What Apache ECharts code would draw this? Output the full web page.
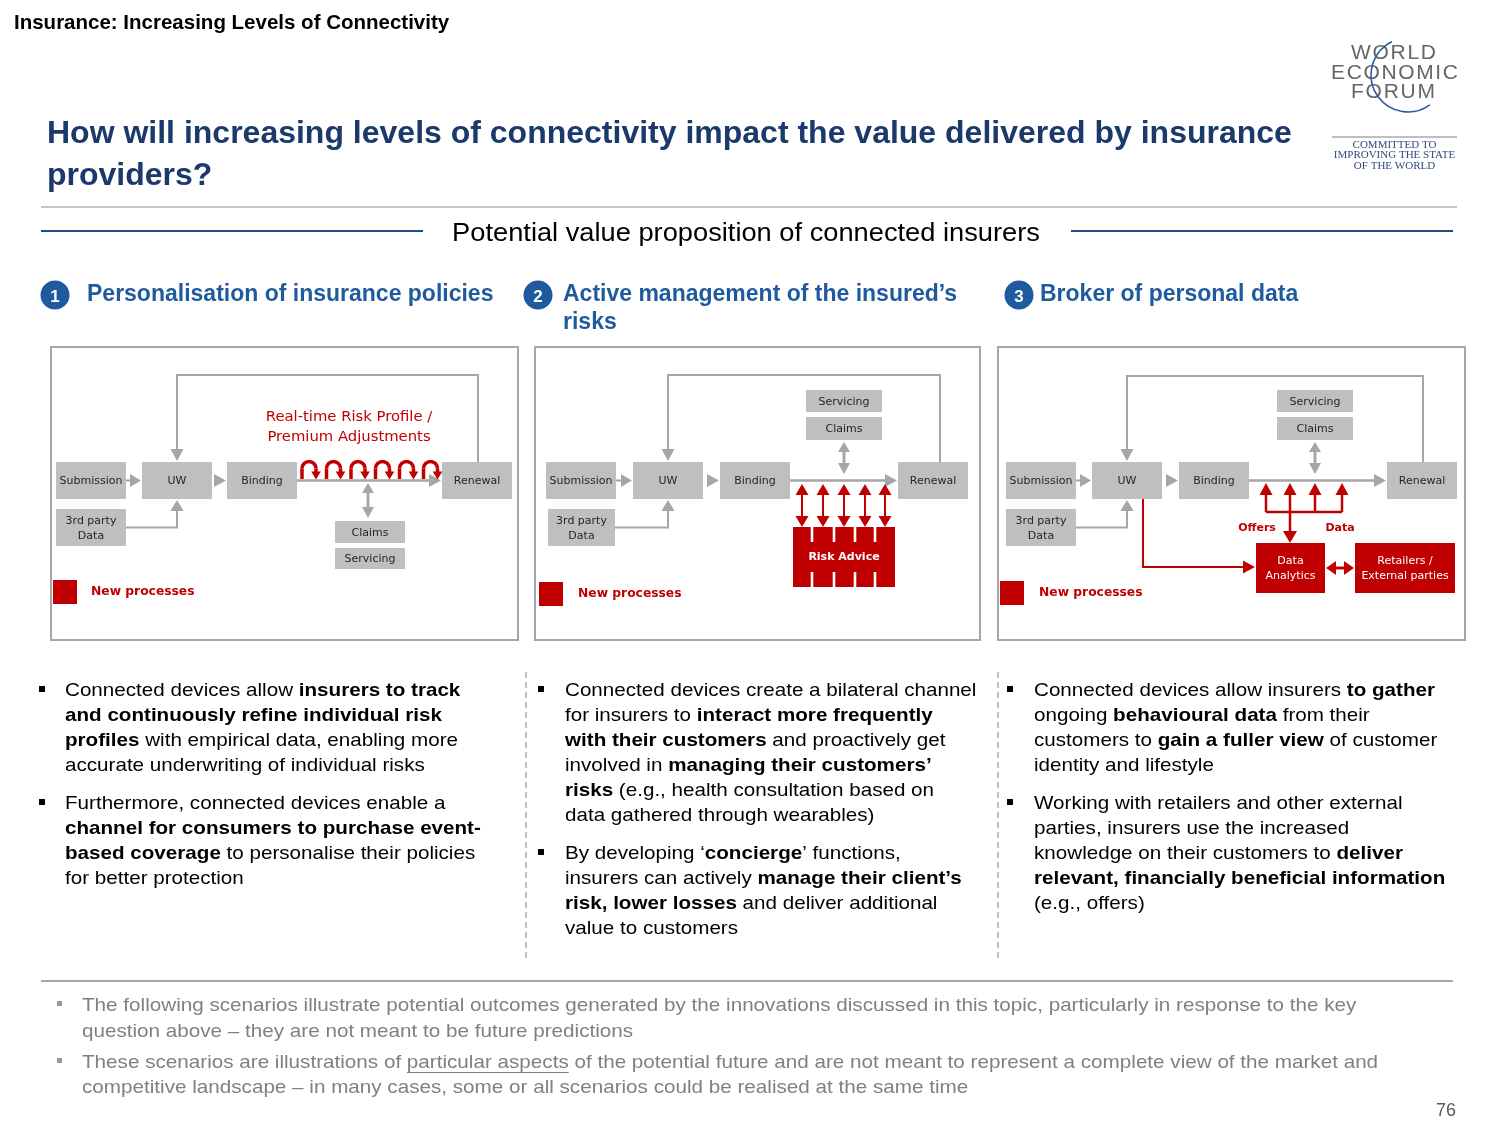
<!DOCTYPE html>
<html><head><meta charset="utf-8">
<script src="https://cdn.jsdelivr.net/npm/echarts@6/dist/echarts.min.js"></script>
<style>html,body{margin:0;padding:0;background:#fff}#c{width:1500px;height:1125px}</style>
</head><body><div id="c"></div>
<script>
// ---------------- content (data) ----------------
const pageTitle = "Insurance: Increasing Levels of Connectivity";
const question = ["How will increasing levels of connectivity impact the value delivered by insurance", "providers?"];
const subTitle = "Potential value proposition of connected insurers";
const logoWords = ["WORLD", "ECONOMIC", "FORUM"];
const logoTagline = ["COMMITTED TO", "IMPROVING THE STATE", "OF THE WORLD"];
const sectionNumbers = ["1", "2", "3"];
const sectionTitles = [
  ["Personalisation of insurance policies"],
  ["Active management of the insured’s", "risks"],
  ["Broker of personal data"]
];
const processSteps = ["Submission", "UW", "Binding", "Renewal"];
const dataSource = ["3rd party", "Data"];
const serviceSteps = ["Claims", "Servicing"];
const riskProfileLabel = ["Real-time Risk Profile /", "Premium Adjustments"];
const riskAdviceLabel = "Risk Advice";
const analyticsLabel = ["Data", "Analytics"];
const partnersLabel = ["Retailers /", "External parties"];
const flowLabels = ["Offers", "Data"];
const legendLabel = "New processes";
const bullets1 = [
  ["Connected devices allow {b|insurers to track}",
   "{b|and continuously refine individual risk}",
   "{b|profiles} with empirical data, enabling more",
   "accurate underwriting of individual risks"],
  ["Furthermore, connected devices enable a",
   "{b|channel for consumers to purchase event-}",
   "{b|based coverage} to personalise their policies",
   "for better protection"]
];
const bullets2 = [
  ["Connected devices create a bilateral channel",
   "for insurers to {b|interact more frequently}",
   "{b|with their customers} and proactively get",
   "involved in {b|managing their customers’}",
   "{b|risks} (e.g., health consultation based on",
   "data gathered through wearables)"],
  ["By developing ‘{b|concierge}’ functions,",
   "insurers can actively {b|manage their client’s}",
   "{b|risk, lower losses} and deliver additional",
   "value to customers"]
];
const bullets3 = [
  ["Connected devices allow insurers {b|to gather}",
   "ongoing {b|behavioural data} from their",
   "customers to {b|gain a fuller view} of customer",
   "identity and lifestyle"],
  ["Working with retailers and other external",
   "parties, insurers use the increased",
   "knowledge on their customers to {b|deliver}",
   "{b|relevant, financially beneficial information}",
   "(e.g., offers)"]
];
const footnotes = [
  ["The following scenarios illustrate potential outcomes generated by the innovations discussed in this topic, particularly in response to the key",
   "question above – they are not meant to be future predictions"],
  ["These scenarios are illustrations of particular aspects of the potential future and are not meant to represent a complete view of the market and",
   "competitive landscape – in many cases, some or all scenarios could be realised at the same time"]
];
const underlinedPhrase = "particular aspects";
const pageNumber = "76";

// ---------------- drawing ----------------
const FF = "'Liberation Sans', Arial, Helvetica, sans-serif";
const FD = "'DejaVu Sans', Verdana, sans-serif";
const FS = "'Liberation Serif', 'Times New Roman', serif";
const RED = '#C00000', GRAY = '#A6A6A6', BOX = '#BFBFBF', BLUE = '#1F5A9E', NAVY = '#1B3A6B';
const G = [];
const mctx = document.createElement('canvas').getContext('2d');
function measure(s, font) { mctx.font = font; return mctx.measureText(s).width; }

function rect(x, y, w, h, fill) { G.push({type: 'rect', silent: true, shape: {x, y, width: w, height: h}, style: {fill}}); }
function poly(points, stroke, lw, dash) { G.push({type: 'polyline', silent: true, shape: {points}, style: {stroke, lineWidth: lw, fill: null, lineDash: dash || null}}); }
function tri(x, y, dir, L, W, fill) {
  let p;
  if (dir === 'r') p = [[x, y], [x - L, y - W], [x - L, y + W]];
  else if (dir === 'l') p = [[x, y], [x + L, y - W], [x + L, y + W]];
  else if (dir === 'u') p = [[x, y], [x - W, y + L], [x + W, y + L]];
  else p = [[x, y], [x - W, y - L], [x + W, y - L]];
  G.push({type: 'polygon', silent: true, shape: {points: p}, style: {fill}});
}
function txt(x, y, text, o) {
  o = o || {};
  const ff = o.ff || FF;
  const dy = ff === FF ? 2 : 1;
  const st = {text, fontFamily: ff, fontSize: o.fs || 12, fontWeight: o.fw || 'normal', fill: o.c || '#000',
    align: o.al || 'left', verticalAlign: o.va || 'middle'};
  if (o.lh) st.lineHeight = o.lh;
  if (o.rich) st.rich = o.rich;
  G.push({type: 'text', silent: true, x, y: y + dy, scaleX: o.sx || 1, style: st});
}
function box(r, label, fill, color, fs, fw) {
  rect(r[0], r[1], r[2], r[3], fill);
  const lines = Array.isArray(label) ? label : [label];
  const lh = fs + 4;
  const cy = r[1] + r[3] / 2;
  lines.forEach((l, i) => {
    txt(r[0] + r[2] / 2, cy + (i - (lines.length - 1) / 2) * lh, l, {ff: FD, fs, fw: fw || 'normal', c: color, al: 'center'});
  });
}

// ---- header ----
txt(14, 21, pageTitle, {fs: 20.5, fw: 'bold'});
txt(47, 132, question[0], {fs: 32, fw: 'bold', c: NAVY});
txt(47, 174, question[1], {fs: 32, fw: 'bold', c: NAVY});

// logo
const logoSpans = [[1351, 1436, 51], [1331, 1458, 71], [1351, 1435, 90]];
logoWords.forEach((w, i) => {
  const font = "21px " + FF;
  const ws = w.split('').map(ch => measure(ch, font));
  const tot = ws.reduce((a, b) => a + b, 0);
  const gap = (logoSpans[i][1] - logoSpans[i][0] - tot) / (w.length - 1);
  let x = logoSpans[i][0];
  w.split('').forEach((ch, k) => { txt(x, logoSpans[i][2], ch, {fs: 21, c: '#666666'}); x += ws[k] + gap; });
});
G.push({type: 'arc', silent: true, shape: {cx: 1408, cy: 75, r: 37, startAngle: 0.94, endAngle: 4.26, clockwise: true},
  style: {stroke: '#2B5BA8', lineWidth: 1.6, fill: null}});
poly([[1332, 137], [1457, 137]], '#7f7f7f', 1);
logoTagline.forEach((t, i) => txt(1394.5, 144 + i * 10.5, t, {ff: FS, fs: 11, c: '#2E4A7D', al: 'center'}));

// separators
poly([[41, 207], [1457, 207]], '#8c8c8c', 1);
poly([[41, 231], [423, 231]], '#1F4E8C', 2);
poly([[1071, 231], [1453, 231]], '#1F4E8C', 2);
txt(746, 232, subTitle, {fs: 25, al: 'center', sx: 1.09});

// section headers
const secPos = [[55, 87], [538, 563], [1019, 1040]];
sectionTitles.forEach((t, i) => {
  G.push({type: 'circle', silent: true, shape: {cx: secPos[i][0], cy: 295, r: 14.5}, style: {fill: BLUE}});
  txt(secPos[i][0], 295, sectionNumbers[i], {fs: 17, fw: 'bold', c: '#fff', al: 'center'});
  t.forEach((l, k) => txt(secPos[i][1], 293 + k * 28, l, {fs: 23, fw: 'bold', c: BLUE}));
});

// panels
[[51, 347, 467, 293], [535, 347, 445, 293], [998, 347, 467, 293]].forEach(p => {
  G.push({type: 'rect', silent: true, shape: {x: p[0], y: p[1], width: p[2], height: p[3]}, style: {fill: null, stroke: GRAY, lineWidth: 2}});
});

function flow(p) {
  const my = 480.5;
  box(p.sub, processSteps[0], BOX, '#262626', 11);
  box(p.uw, processSteps[1], BOX, '#262626', 11);
  box(p.bind, processSteps[2], BOX, '#262626', 11);
  box(p.ren, processSteps[3], BOX, '#262626', 11);
  box(p.third, dataSource, BOX, '#262626', 11);
  box(p.claims, serviceSteps[0], BOX, '#262626', 11);
  box(p.serv, serviceSteps[1], BOX, '#262626', 11);
  const uwCx = p.uw[0] + p.uw[2] / 2;
  poly([[uwCx, 450], [uwCx, p.loopTop], [p.loopRight, p.loopTop], [p.loopRight, 462]], GRAY, 2);
  tri(uwCx, 461, 'd', 12, 6.5, GRAY);
  const subR = p.sub[0] + p.sub[2];
  poly([[subR, my], [p.uw[0] - 10, my]], GRAY, 2);
  tri(p.uw[0] - 1, my, 'r', 11, 6.5, GRAY);
  tri(p.bind[0] - 1, my, 'r', 12, 6.5, GRAY);
  poly([[p.bind[0] + p.bind[2], my], [p.ren[0] - 10, my]], GRAY, 2.5);
  tri(p.ren[0] - 1, my, 'r', 12, 6.5, GRAY);
  const ty = p.third[1] + p.third[3] / 2;
  poly([[p.third[0] + p.third[2], ty], [uwCx, ty], [uwCx, 510]], GRAY, 2);
  tri(uwCx, 500, 'u', 11, 6.5, GRAY);
  const d = p.dbl;
  tri(d.x, d.t1, 'u', 10, 6, GRAY);
  poly([[d.x, d.t1 + 10], [d.x, d.t2 - 10]], GRAY, 3);
  tri(d.x, d.t2, 'd', 11, 6, GRAY);
  rect(p.leg[0], p.leg[1], 24, 24, RED);
  txt(p.leg[2], p.leg[1] + 11, legendLabel, {ff: FD, fs: 12.3, fw: 'bold', c: RED});
}

// panel 1
flow({sub: [56, 462, 70, 37], uw: [142, 462, 70, 37], bind: [227, 462, 70, 37], ren: [442, 462, 70, 37],
  third: [56, 509, 70, 37], claims: [335, 521, 70, 22], serv: [335, 548, 70, 21],
  loopTop: 375, loopRight: 478, dbl: {x: 368, t1: 483, t2: 518}, leg: [53, 580, 91]});
riskProfileLabel.forEach((l, i) => txt(349, 416 + i * 20, l, {ff: FD, fs: 14.8, c: RED, al: 'center'}));
[309, 333.5, 358, 382.5, 406.5, 430.5].forEach(c => {
  const r = 7, cy = 468.5;
  poly([[c - r, 479], [c - r, cy]], RED, 3.5);
  G.push({type: 'arc', silent: true, shape: {cx: c, cy, r, startAngle: Math.PI, endAngle: 2 * Math.PI, clockwise: true},
    style: {stroke: RED, lineWidth: 3.5, fill: null}});
  poly([[c + r, cy], [c + r, 472]], RED, 3.5);
  tri(c + r, 479.5, 'd', 8, 4.8, RED);
});

// panel 2
flow({sub: [546, 462, 70, 37], uw: [633, 462, 70, 37], bind: [720, 462, 70, 37], ren: [898, 462, 70, 37],
  third: [548, 509, 67, 37], claims: [806, 417, 76, 23], serv: [806, 390, 76, 22],
  loopTop: 375, loopRight: 940, dbl: {x: 844, t1: 442, t2: 474}, leg: [539, 582, 578]});
[802, 823, 844, 865, 885].forEach(x => {
  tri(x, 484, 'u', 11, 6.5, RED);
  poly([[x, 494], [x, 517]], RED, 2);
  tri(x, 527, 'd', 11, 6.5, RED);
});
rect(793, 527, 102, 60, RED);
[812, 834, 855, 875].forEach(gx => { rect(gx - 1.3, 527, 2.6, 15, '#fff'); rect(gx - 1.3, 572, 2.6, 15, '#fff'); });
txt(844, 556, riskAdviceLabel, {ff: FD, fs: 11, fw: 'bold', c: '#fff', al: 'center'});

// panel 3
flow({sub: [1006, 462, 70, 37], uw: [1092, 462, 70, 37], bind: [1179, 462, 70, 37], ren: [1387, 462, 70, 37],
  third: [1006, 509, 70, 37], claims: [1277, 417, 76, 23], serv: [1277, 390, 76, 22],
  loopTop: 376, loopRight: 1423, dbl: {x: 1315, t1: 442, t2: 474}, leg: [1000, 581, 1039]});
[1266, 1290, 1315, 1342].forEach(x => {
  tri(x, 483, 'u', 12, 6.5, RED);
  poly([[x, 494], [x, 512]], RED, 2.5);
});
poly([[1266, 512], [1342, 512]], RED, 2.5);
poly([[1290, 512], [1290, 532]], RED, 2.5);
tri(1290, 543, 'd', 12, 7, RED);
poly([[1143, 499], [1143, 567], [1244, 567]], RED, 2);
tri(1255, 567, 'r', 12, 6.5, RED);
box([1256, 543, 69, 50], analyticsLabel, RED, '#fff', 11);
box([1355, 543, 100, 50], partnersLabel, RED, '#fff', 11);
tri(1326, 568, 'l', 10, 7, RED);
tri(1354, 568, 'r', 10, 7, RED);
poly([[1334, 568], [1346, 568]], RED, 3);
txt(1257, 527, flowLabels[0], {ff: FD, fs: 11, fw: 'bold', c: RED, al: 'center'});
txt(1340, 527, flowLabels[1], {ff: FD, fs: 11, fw: 'bold', c: RED, al: 'center'});

// bullets
const BFS = 19, BSX = 1.085;
function bulletCol(x0, bx, paras) {
  let y = 689;
  paras.forEach(p => {
    rect(bx - 3, y - 3, 6, 6, '#000');
    p.forEach(line => {
      txt(x0, y, line, {fs: BFS, sx: BSX, rich: {b: {fontWeight: 'bold', fontSize: BFS, fontFamily: FF, fill: '#000'}}});
      y += 25;
    });
    y += 13;
  });
}
bulletCol(65, 42, bullets1);
bulletCol(565, 541, bullets2);
bulletCol(1034, 1010, bullets3);
poly([[526, 672], [526, 958]], '#aaaaaa', 1.5, [6, 4]);
poly([[998, 672], [998, 958]], '#aaaaaa', 1.5, [6, 4]);

// footer
poly([[41, 981], [1453, 981]], GRAY, 2);
const FFS = 19, FSX = 1.087;
const fy = [[1004, 1030], [1061, 1086]];
footnotes.forEach((p, i) => {
  rect(57, fy[i][0] - 3, 5, 5, '#9a9a9a');
  p.forEach((l, k) => txt(82, fy[i][k], l, {fs: FFS, sx: FSX, c: '#808080'}));
});
{
  const font = FFS + "px " + FF;
  const line = footnotes[1][0];
  const pre = line.substring(0, line.indexOf(underlinedPhrase));
  const x0 = 82 + measure(pre, font) * FSX;
  const w = measure(underlinedPhrase, font) * FSX;
  poly([[x0, 1072.5], [x0 + w, 1072.5]], '#808080', 1.2);
}
txt(1456, 1109, pageNumber, {fs: 18, c: '#595959', al: 'right'});

const chart = echarts.init(document.getElementById('c'), null, {renderer: 'canvas', width: 1500, height: 1125});
chart.setOption({animation: false, backgroundColor: '#fff', graphic: {elements: G}});
</script>
</body></html>
